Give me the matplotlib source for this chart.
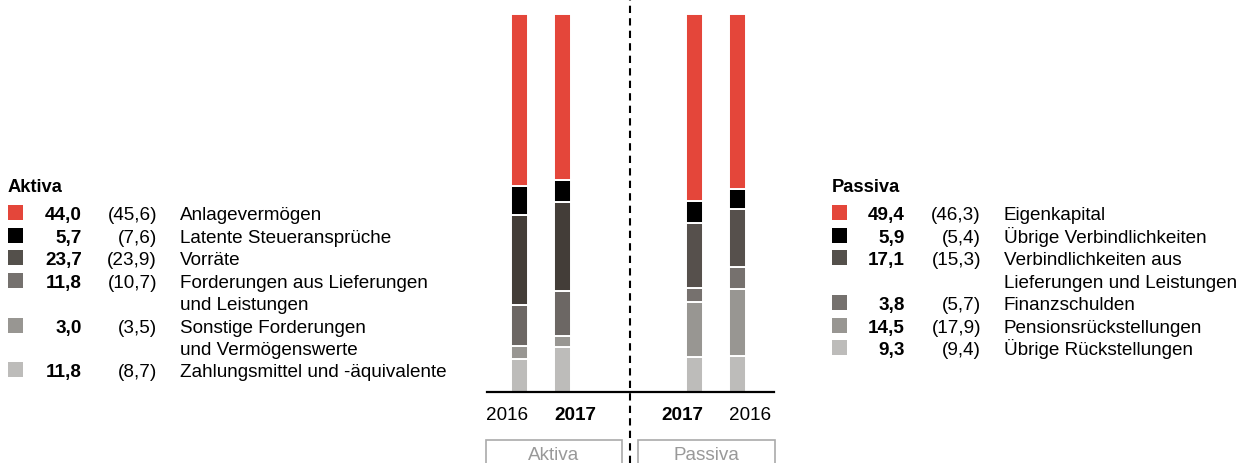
import matplotlib
matplotlib.use("Agg")
import matplotlib.pyplot as plt
from matplotlib.patches import Rectangle
from matplotlib.lines import Line2D
import numpy as np

plt.rcParams['font.family'] = ['Liberation Sans', 'DejaVu Sans']

# ---------------- data ----------------
aktiva_labels = ["Anlagevermögen", "Latente Steueransprüche", "Vorräte",
                 "Forderungen aus Lieferungen\nund Leistungen",
                 "Sonstige Forderungen\nund Vermögenswerte",
                 "Zahlungsmittel und -äquivalente"]
aktiva_2017 = [44.0, 5.7, 23.7, 11.8, 3.0, 11.8]
aktiva_2016 = [45.6, 7.6, 23.9, 10.7, 3.5, 8.7]

passiva_labels = ["Eigenkapital", "Übrige Verbindlichkeiten",
                  "Verbindlichkeiten aus\nLieferungen und Leistungen",
                  "Finanzschulden", "Pensionsrückstellungen",
                  "Übrige Rückstellungen"]
passiva_2017 = [49.4, 5.9, 17.1, 3.8, 14.5, 9.3]
passiva_2016 = [46.3, 5.4, 15.3, 5.7, 17.9, 9.4]

bar_labels = ["2016", "2017", "2017", "2016"]

aktiva_colors = ["#E4463A", "#000000", "#433D38", "#6C6764", "#989692", "#BDBCBA"]
passiva_colors = ["#E4463A", "#000000", "#56504C", "#76716E", "#989692", "#BDBCBA"]
aktiva_legend_colors = ["#E4463A", "#000000", "#54504B", "#75716E", "#989692", "#BDBCBA"]
passiva_legend_colors = ["#E4463A", "#000000", "#54504B", "#75716E", "#989692", "#BDBCBA"]

# ---------------- figure ----------------
W, H = 1237, 464
fig = plt.figure(figsize=(W / 100, H / 100), dpi=100)
FS = 13.6
BASE = 7  # baseline offset below row centre (px)

def fx(px):
    return px / W

def fy(py):
    return 1 - py / H

# bar axes: x pixel 487..774, y pixel 15 (100%) .. 393 (0%)
ax = fig.add_axes([fx(487), fy(393), fx(774) - fx(487), (393 - 15) / H])
unit = 43.8
x0 = 519
ax.set_xlim((487 - x0) / unit, (774 - x0) / unit)
ax.set_ylim(0, 100)
ax.axis("off")

positions = [0, 1, 4, 5]
series = [(aktiva_2016, aktiva_colors), (aktiva_2017, aktiva_colors),
          (passiva_2017, passiva_colors), (passiva_2016, passiva_colors)]
bw = 17 / unit
for pos, (vals, cols) in zip(positions, series):
    bottom = 0.0
    for v, c in zip(vals[::-1], cols[::-1]):
        ax.bar(pos, v, width=bw, bottom=bottom, color=c,
               edgecolor="white", linewidth=1.4)
        bottom += v

ax.axhline(0, color="black", lw=1.6, clip_on=False)

# dashed vertical separator
fig.add_artist(Line2D([fx(630), fx(630)], [0, 1], color="black", lw=1.5,
                      linestyle=(0, (3.5, 2.5))))

# year labels
label_x = [507, 575, 682, 750]
for lx, lab, bold in zip(label_x, bar_labels, [False, True, True, False]):
    fig.text(fx(lx), fy(420.5), lab, ha="center", va="baseline", fontsize=FS,
             fontweight="bold" if bold else "normal", color="black")

# bottom boxes
for (l, r), txt in zip([(486, 622), (638, 775)], ["Aktiva", "Passiva"]):
    fig.add_artist(Rectangle((fx(l), fy(475)), fx(r) - fx(l), (475 - 441) / H,
                             fill=False, edgecolor="#AAAAAA", lw=1.2))
    fig.text(fx((l + r) / 2), fy(460), txt, ha="center", va="baseline",
             fontsize=FS, color="#999999")

# legends
LINE = 22.5

def legend(title, x_sq, x_val, x_par, x_lab, rows_y, labels, cur, prev, colors):
    fig.text(fx(x_sq), fy(192), title, ha="left", va="baseline",
             fontsize=13.2, fontweight="bold")
    for y, lab, c, p, col in zip(rows_y, labels, cur, prev, colors):
        fig.add_artist(Rectangle((fx(x_sq), fy(y + 7.5)), 15 / W, 15 / H,
                                 facecolor=col, edgecolor="none"))
        fig.text(fx(x_val), fy(y + BASE), f"{c:.1f}".replace(".", ","),
                 ha="right", va="baseline", fontsize=FS, fontweight="bold")
        fig.text(fx(x_par), fy(y + BASE),
                 "(" + f"{p:.1f}".replace(".", ",") + ")",
                 ha="right", va="baseline", fontsize=FS)
        for i, line in enumerate(lab.split("\n")):
            fig.text(fx(x_lab), fy(y + BASE + i * LINE), line, ha="left",
                     va="baseline", fontsize=FS)

legend("Aktiva", 8, 82, 157, 180, [213, 236, 258, 281, 326, 370],
       aktiva_labels, aktiva_2017, aktiva_2016, aktiva_legend_colors)
legend("Passiva", 832, 905, 981, 1004, [213, 236, 258, 303, 326, 348],
       passiva_labels, passiva_2017, passiva_2016, passiva_legend_colors)

fig.savefig("out.png", dpi=100)
